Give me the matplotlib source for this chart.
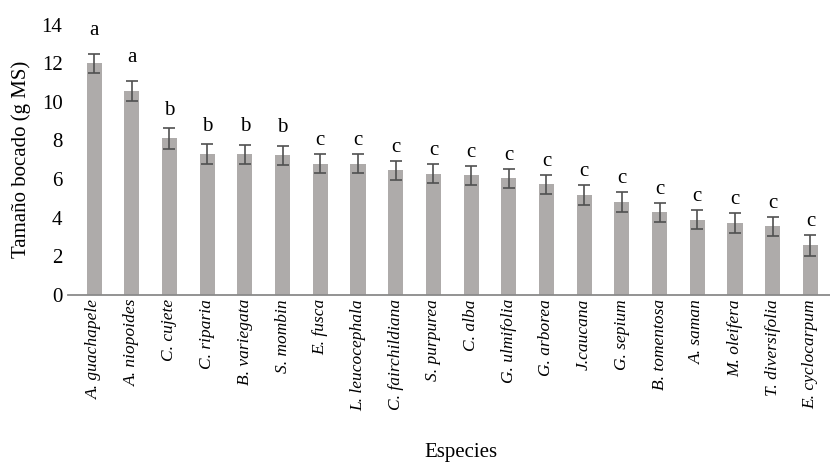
import numpy as np
import matplotlib.pyplot as plt

especies = ["A. guachapele", "A. niopoides", "C. cujete", "C. riparia", "B. variegata",
            "S. mombin", "E. fusca", "L. leucocephala", "C. fairchildiana", "S. purpurea",
            "C. alba", "G. ulmifolia", "G. arborea", "J.caucana", "G. sepium",
            "B. tomentosa", "A. saman", "M. oleifera", "T. diversifolia", "E. cyclocarpum"]
bocado = [12.0, 10.56, 8.1, 7.29, 7.28, 7.23, 6.79, 6.79, 6.45, 6.27,
          6.19, 6.03, 5.72, 5.18, 4.81, 4.27, 3.89, 3.72, 3.55, 2.56]
error = [0.5, 0.52, 0.52, 0.5, 0.5, 0.5, 0.5, 0.5, 0.5, 0.5,
         0.5, 0.5, 0.5, 0.5, 0.5, 0.5, 0.5, 0.5, 0.5, 0.52]
letras = ["a", "a", "b", "b", "b", "b", "c", "c", "c", "c",
          "c", "c", "c", "c", "c", "c", "c", "c", "c", "c"]

# separacion de la letra sobre la barra de error (puntos)
sep = {"a": 10, "b": 6, "c": 3}

plt.rcParams['font.family'] = ['Liberation Serif', 'DejaVu Serif']

fig = plt.figure(figsize=(8.3, 4.63), dpi=100)
ax = fig.add_axes([0.082, 0.363, 0.918, 0.584])

x = np.arange(len(especies))
ax.bar(x, bocado, width=0.4, color="#aeabaa", zorder=2)
ax.errorbar(x, bocado, yerr=error, fmt="none", ecolor="#505050", elinewidth=1.2,
            capsize=4, capthick=1.2, zorder=3)
for i in range(len(x)):
    ax.annotate(letras[i], (x[i], bocado[i] + error[i]), xytext=(0, sep[letras[i]]),
                textcoords="offset points", ha="center", va="bottom", fontsize=15)

ax.set_xlim(-0.69, 19.52)
ax.set_ylim(0, 14)
ax.set_yticks(range(0, 15, 2))
ax.set_xticks(x)
ax.set_xticklabels(especies, rotation=90, style="italic")
ax.tick_params(axis="both", length=0)
ax.tick_params(axis="x", labelsize=12.5, pad=3)
ax.tick_params(axis="y", labelsize=15, pad=4)
for s in ["top", "right", "left"]:
    ax.spines[s].set_visible(False)
ax.spines["bottom"].set_color("#8a8a8a")
ax.spines["bottom"].set_linewidth(1.3)

ax.set_ylabel("Tamaño bocado (g MS)", fontsize=15, labelpad=8)
fig.text(0.555, 0.012, "Especies", ha="center", fontsize=15)

fig.savefig("out.png", dpi=100)
